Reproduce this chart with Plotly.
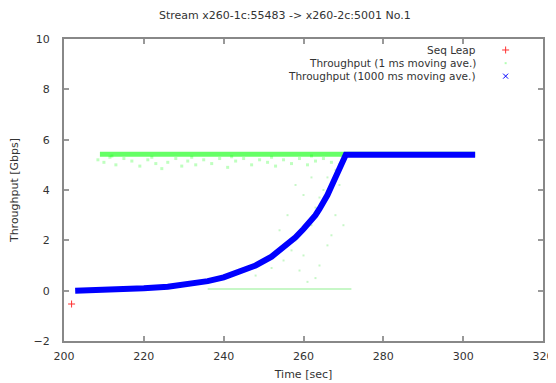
import plotly.graph_objects as go

# ---- data ----
seq_leap_t = [201.9]
seq_leap_v = [-0.53]

# 1000 ms moving average
blue_t = [202.8, 206, 210, 215, 220, 226, 232, 236, 240, 244, 248, 252, 256, 258, 260, 262, 263, 264, 265, 266, 267, 268, 269, 270, 270.6, 275, 280, 290, 303]
blue_v = [0.0, 0.01, 0.03, 0.06, 0.1, 0.16, 0.27, 0.38, 0.53, 0.74, 1.0, 1.35, 1.85, 2.12, 2.45, 2.8, 3.0, 3.25, 3.5, 3.8, 4.15, 4.5, 4.85, 5.2, 5.4, 5.4, 5.4, 5.4, 5.4]

# 1 ms moving average: main plateau band
band_t = [209, 303]
band_v = [5.42, 5.42]
# dips below the plateau
dip_t = [208.5, 210, 211.5, 213, 215, 217, 219, 221, 223, 224.5, 226, 228, 229.5, 231, 233, 235, 237, 239, 241,
         243, 245, 247, 249, 251, 253, 255, 257, 259, 261, 263, 265, 267, 269, 212, 222, 232, 242, 252, 262]
dip_v = [5.2, 5.1, 5.3, 5.0, 5.25, 5.15, 4.95, 5.2, 5.05, 4.85, 5.1, 5.25, 4.95, 5.15, 5.0, 5.2, 5.05, 5.25, 4.9,
         5.15, 5.25, 5.0, 5.2, 5.1, 4.95, 5.2, 5.05, 5.25, 5.0, 5.15, 5.25, 5.1, 5.0, 5.35, 5.3, 5.3, 5.32, 5.3, 5.35]
# sparse ramp points
ramp_t = [248, 252, 255, 257, 258, 260, 262, 263, 264, 265, 266, 267, 268, 262, 264, 260, 258, 256, 254, 259, 266, 268, 269, 270, 263, 261]
ramp_v = [0.6, 0.9, 1.2, 1.6, 2.0, 1.4, 2.6, 3.3, 1.0, 4.0, 4.5, 2.2, 4.8, 4.5, 3.7, 3.8, 4.2, 3.0, 2.4, 0.8, 1.8, 3.0, 4.2, 2.6, 0.5, 0.35]
# faint near-zero trace
low_t = [236, 272]
low_v = [0.07, 0.07]

legend_names = ["Seq Leap", "Throughput (1 ms moving ave.)", "Throughput (1000 ms moving ave.)"]
legend_y = [0.9636, 0.920, 0.877]

GREEN = "rgba(0,255,0,0.6)"
FAINT = "rgba(0,220,0,0.22)"
BLUE = "#0000ff"
RED = "#ff3030"

fig = go.Figure()

fig.add_trace(go.Scatter(x=low_t, y=low_v, mode="lines", line=dict(color=FAINT, width=2), showlegend=False))
fig.add_trace(go.Scatter(x=ramp_t, y=ramp_v, mode="markers",
                         marker=dict(symbol="square", size=2, color=FAINT, line=dict(width=0)), showlegend=False))
fig.add_trace(go.Scatter(x=dip_t, y=dip_v, mode="markers",
                         marker=dict(symbol="square", size=3, color="rgba(0,255,0,0.25)", line=dict(width=0)), showlegend=False))
fig.add_trace(go.Scatter(x=band_t, y=band_v, mode="lines", line=dict(color=GREEN, width=5), showlegend=False))
fig.add_trace(go.Scatter(x=blue_t, y=blue_v, mode="lines", line=dict(color=BLUE, width=6), showlegend=False))
fig.add_trace(go.Scatter(x=seq_leap_t, y=seq_leap_v, mode="markers",
                         marker=dict(symbol="cross-thin", size=5, color=RED, line=dict(color=RED, width=1)), showlegend=False))

# legend symbols (drawn on overlay axes spanning the plot area)
fig.add_trace(go.Scatter(x=[0.922], y=[legend_y[0]], xaxis="x2", yaxis="y2", mode="markers",
                         marker=dict(symbol="cross-thin", size=5, color=RED, line=dict(color=RED, width=1)), showlegend=False))
fig.add_trace(go.Scatter(x=[0.922], y=[legend_y[1]], xaxis="x2", yaxis="y2", mode="markers",
                         marker=dict(symbol="square", size=2, color="rgba(0,255,0,0.3)"), showlegend=False))
fig.add_trace(go.Scatter(x=[0.922], y=[legend_y[2]], xaxis="x2", yaxis="y2", mode="markers",
                         marker=dict(symbol="x-thin", size=5, color=BLUE, line=dict(color=BLUE, width=1)), showlegend=False))

font = dict(family="DejaVu Sans, Arial, sans-serif", size=11, color="#333333")
legend_font = dict(family="DejaVu Sans, Arial, sans-serif", size=10.5, color="#333333")

annotations = [dict(text=n, x=0.864, y=yy, xref="paper", yref="paper", xanchor="right", yanchor="middle",
                    showarrow=False, font=legend_font) for n, yy in zip(legend_names, legend_y)]
annotations.append(dict(text="Stream x260-1c:55483 -> x260-2c:5001 No.1", x=0.461, y=1 + (39 - 15) / 302,
                        xref="paper", yref="paper", yanchor="middle", showarrow=False, font=font))

axis_common = dict(showline=True, linecolor="#888888", linewidth=2, mirror="allticks", ticks="inside",
                   ticklen=5, tickcolor="#999999", tickwidth=2, showgrid=False, zeroline=False,
                   tickfont=font, automargin=False)

# page body has an 8px default margin, so the figure is 8px smaller than the window
fig.update_layout(
    width=548, height=375,
    margin=dict(l=56, r=13, t=31, b=42),
    paper_bgcolor="white", plot_bgcolor="white",
    showlegend=False,
    font=font,
    xaxis=dict(range=[200, 320], dtick=20, ticklabelstandoff=4,
               title=dict(text="Time [sec]", font=font, standoff=8), **axis_common),
    yaxis=dict(range=[-2, 10], dtick=2, ticklabelstandoff=10,
               title=dict(text="Throughput [Gbps]", font=font, standoff=18), **axis_common),
    xaxis2=dict(range=[0, 1], overlaying="x", visible=False, fixedrange=True),
    yaxis2=dict(range=[0, 1], overlaying="y", visible=False, fixedrange=True),
    annotations=annotations,
)

fig.write_html("out.html")
